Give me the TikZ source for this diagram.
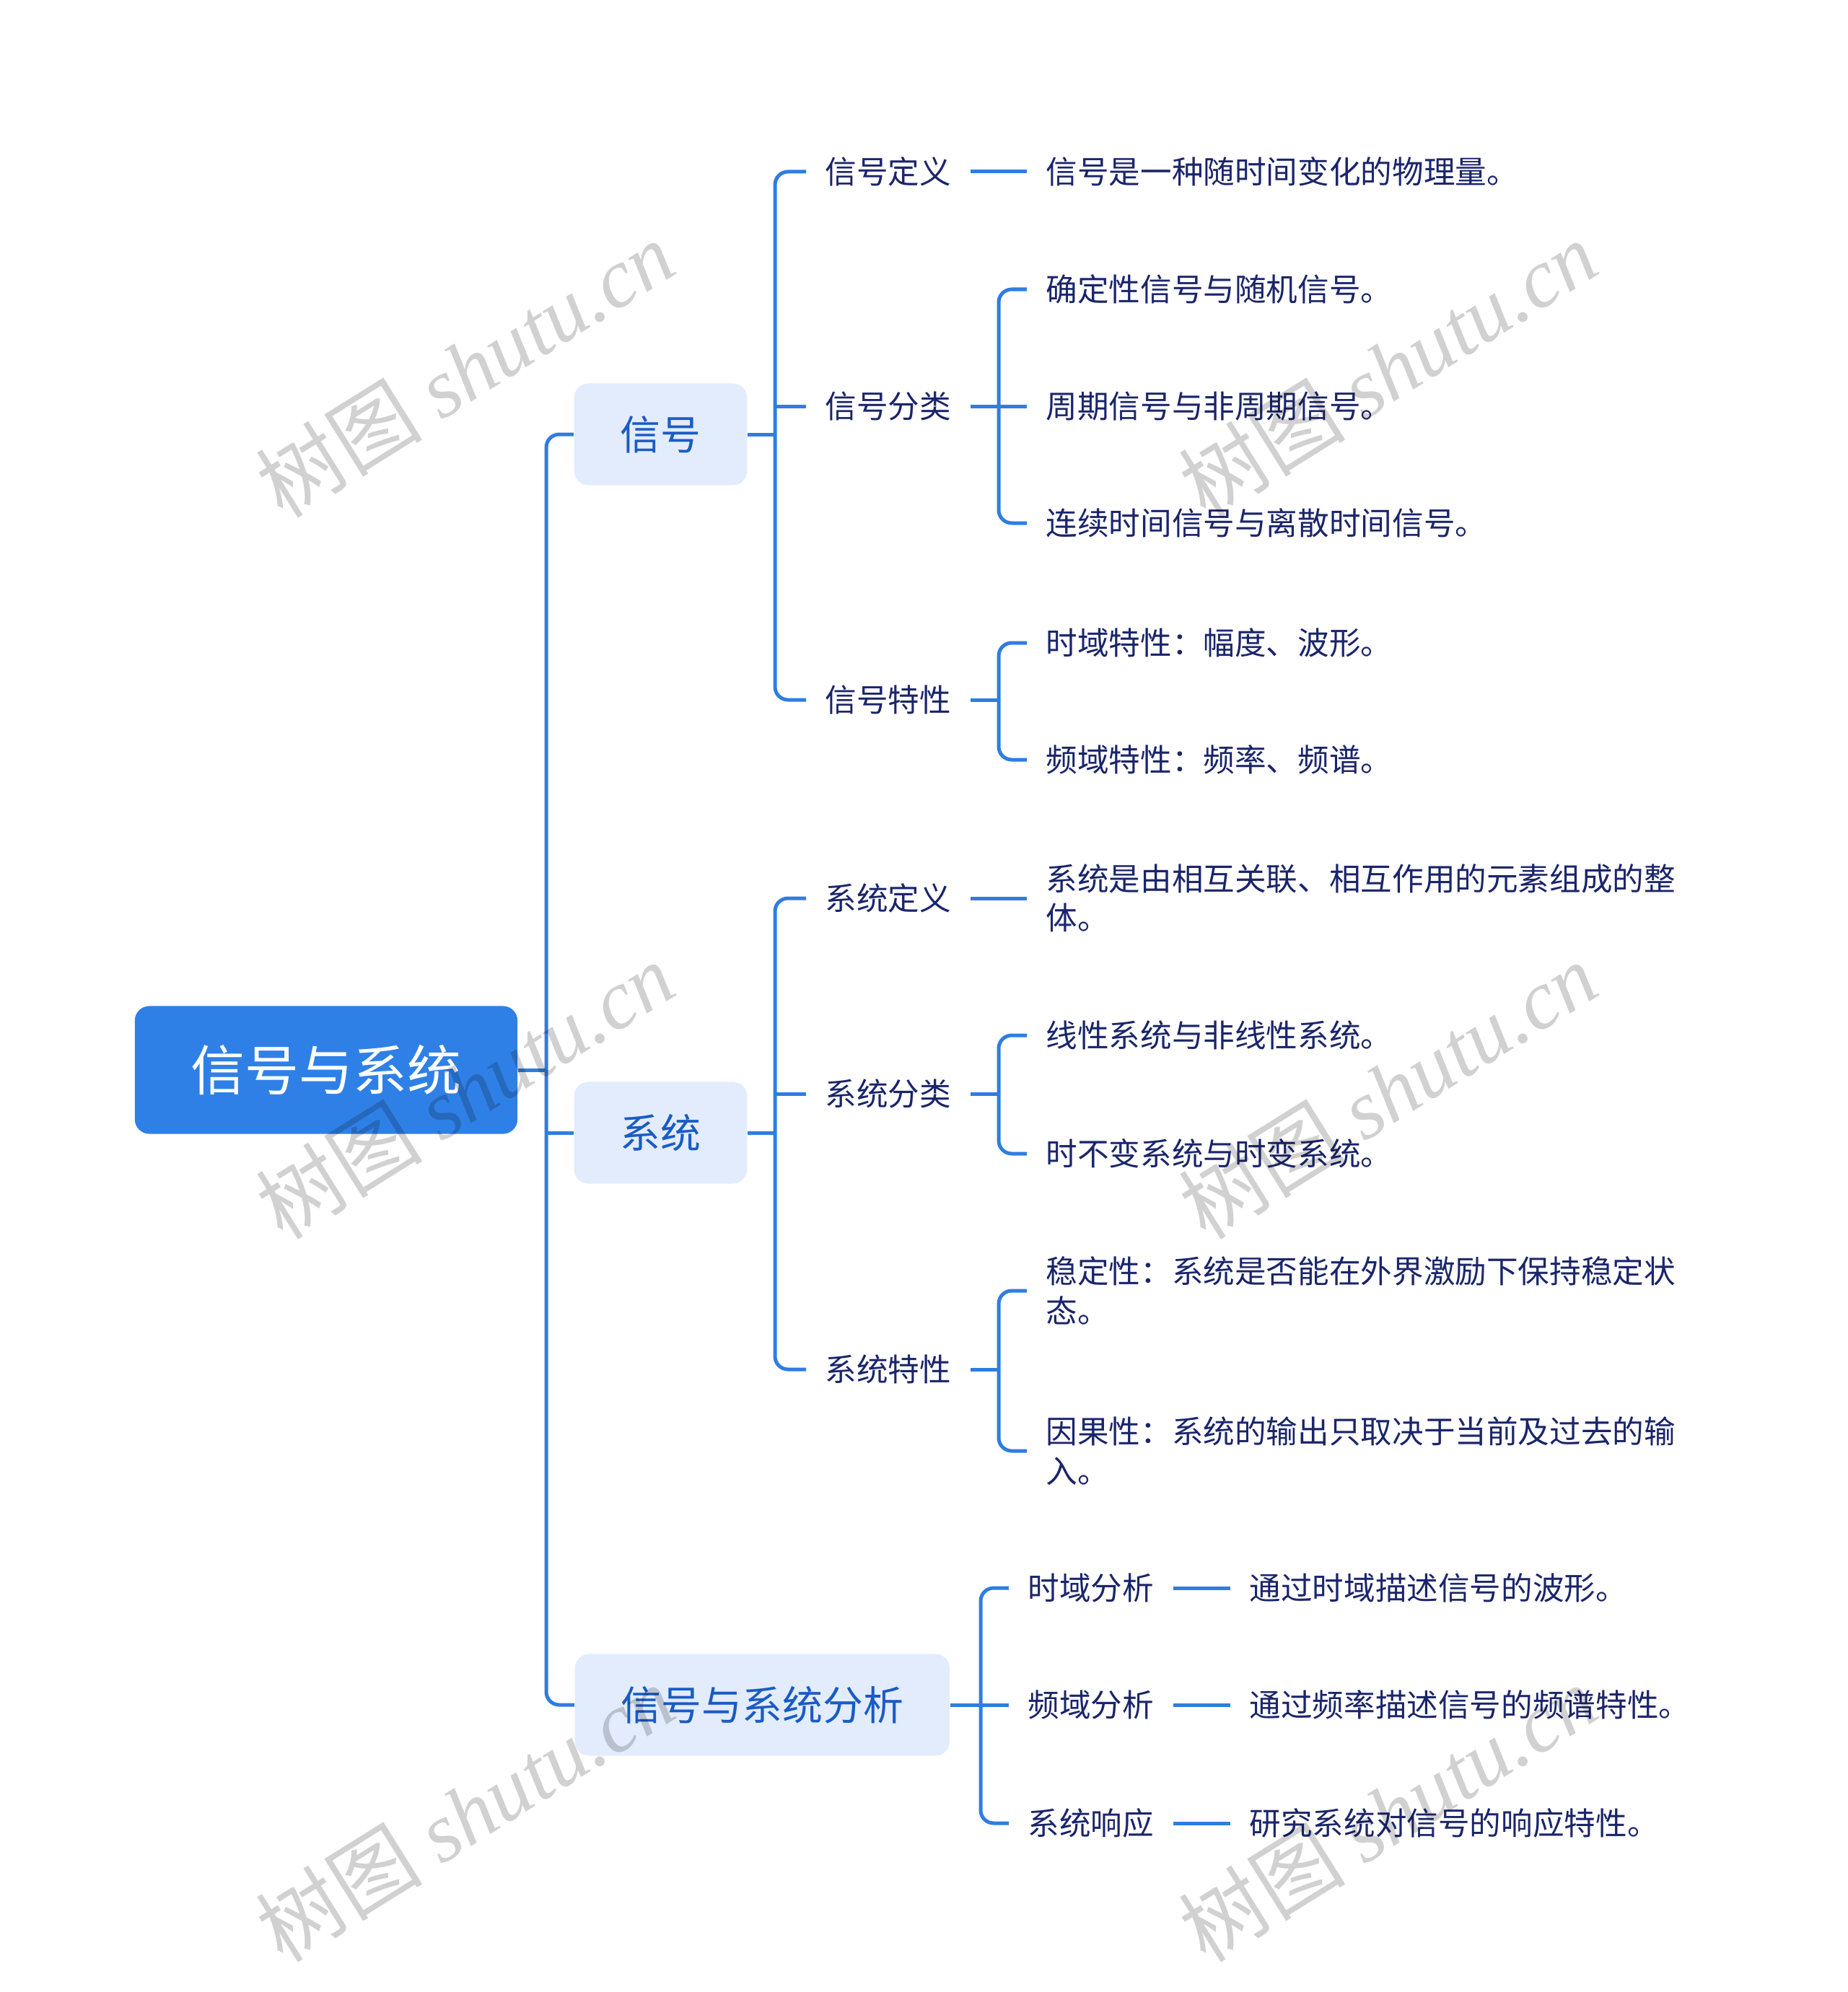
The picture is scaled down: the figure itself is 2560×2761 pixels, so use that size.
\documentclass[tikz,border=0pt]{standalone}
\usepackage{fontspec}
\setmainfont{Noto Sans CJK SC}
\newfontfamily\cjk{Noto Sans CJK SC}
\newfontfamily\wmlatin{Liberation Serif}
\definecolor{linecol}{HTML}{2F7DE1}
\definecolor{rootfill}{HTML}{2F80E6}
\definecolor{boxfill}{HTML}{E3ECFC}
\definecolor{boxtext}{HTML}{1A5BC4}
\definecolor{navy}{HTML}{1B256B}
\begin{document}
\begin{tikzpicture}[x=0.01cm,y=-0.01cm,
  conn/.style={draw=linecol, line width=0.05cm, rounded corners=0.18cm},
  rootbox/.style={fill=rootfill, rounded corners=0.2cm, minimum width=5.3cm, minimum height=1.77cm, text=white, font=\cjk\fontsize{21.3pt}{24pt}\selectfont, inner sep=0pt},
  topic/.style={fill=boxfill, rounded corners=0.2cm, minimum width=2.39cm, minimum height=1.41cm, inner xsep=0.64cm, text=boxtext, font=\cjk\fontsize{15.9pt}{18pt}\selectfont},
  lbl/.style={anchor=west, inner xsep=0.26cm, inner ysep=0.05cm, text=navy, align=left, font=\cjk\fontsize{12.4pt}{15.5pt}\selectfont},
  wm/.style={rotate=32, text=black, text opacity=0.18, font=\fontsize{33pt}{35pt}\selectfont}
]
\useasboundingbox (0,0) rectangle (2560,2761);

% root and topics
\node[rootbox] (root) at (452,1483) {信号与系统};
\node[topic] (sig) at (915.5,602) {信号};
\node[topic] (sys) at (915.5,1570) {系统};
\node[topic, anchor=west] (ana) at (796,2363) {信号与系统分析};

% level 2
\node[lbl] (sdef) at (1117,238) {信号定义};
\node[lbl] (scls) at (1117,563) {信号分类};
\node[lbl] (sprop) at (1117,970) {信号特性};
\node[lbl] (ydef) at (1117,1245) {系统定义};
\node[lbl] (ycls) at (1117,1516) {系统分类};
\node[lbl] (yprop) at (1117,1898) {系统特性};
\node[lbl] (atime) at (1398,2201) {时域分析};
\node[lbl] (afreq) at (1398,2363) {频域分析};
\node[lbl] (aresp) at (1398,2527) {系统响应};

% leaves
\node[lbl] (sdefa) at (1423,238) {信号是一种随时间变化的物理量。};
\node[lbl] (sclsa) at (1423,401) {确定性信号与随机信号。};
\node[lbl] (sclsb) at (1423,563) {周期信号与非周期信号。};
\node[lbl] (sclsc) at (1423,725) {连续时间信号与离散时间信号。};
\node[lbl] (sprpa) at (1423,891) {时域特性：幅度、波形。};
\node[lbl] (sprpb) at (1423,1053) {频域特性：频率、频谱。};
\node[lbl] (ydefa) at (1423,1245) {系统是由相互关联、相互作用的元素组成的整\\体。};
\node[lbl] (yclsa) at (1423,1435) {线性系统与非线性系统。};
\node[lbl] (yclsb) at (1423,1599) {时不变系统与时变系统。};
\node[lbl] (yprpa) at (1423,1789) {稳定性：系统是否能在外界激励下保持稳定状\\态。};
\node[lbl] (yprpb) at (1423,2011) {因果性：系统的输出只取决于当前及过去的输\\入。};
\node[lbl] (atimea) at (1705,2201) {通过时域描述信号的波形。};
\node[lbl] (afreqa) at (1705,2363) {通过频率描述信号的频谱特性。};
\node[lbl] (arespa) at (1705,2527) {研究系统对信号的响应特性。};

% bus coordinates
\coordinate (t0) at (757,1483);
\coordinate (b1) at (1074,602);
\coordinate (b2) at (1074,1570);
\coordinate (b3) at (1359,2363);
\coordinate (b11) at (1384,563);
\coordinate (b12) at (1384,970);
\coordinate (b21) at (1384,1516);
\coordinate (b22) at (1384,1898);

% root -> topics
\draw[conn] (root.east) -- (t0);
\draw[conn] (sig.west) -| (t0) |- (ana.west);
\draw[conn] (t0 |- sys) -- (sys.west);

% signal
\draw[conn] (sig.east) -- (b1);
\draw[conn] (sdef.west) -| (b1) |- (sprop.west);
\draw[conn] (b1 |- scls) -- (scls.west);
\draw[conn] (sdef.east) -- (sdefa.west);
\draw[conn] (scls.east) -- (b11);
\draw[conn] (sclsa.west) -| (b11) |- (sclsc.west);
\draw[conn] (b11 |- sclsb) -- (sclsb.west);
\draw[conn] (sprop.east) -- (b12);
\draw[conn] (sprpa.west) -| (b12) |- (sprpb.west);

% system
\draw[conn] (sys.east) -- (b2);
\draw[conn] (ydef.west) -| (b2) |- (yprop.west);
\draw[conn] (b2 |- ycls) -- (ycls.west);
\draw[conn] (ydef.east) -- (ydefa.west);
\draw[conn] (ycls.east) -- (b21);
\draw[conn] (yclsa.west) -| (b21) |- (yclsb.west);
\draw[conn] (yprop.east) -- (b22);
\draw[conn] (yprpa.west) -| (b22) |- (yprpb.west);

% analysis
\draw[conn] (ana.east) -- (b3);
\draw[conn] (atime.west) -| (b3) |- (aresp.west);
\draw[conn] (b3 |- afreq) -- (afreq.west);
\draw[conn] (atime.east) -- (atimea.west);
\draw[conn] (afreq.east) -- (afreqa.west);
\draw[conn] (aresp.east) -- (arespa.west);

% watermarks
\foreach \wx/\wy [count=\i] in {644/511, 1923/511, 644/1511, 1923/1511, 644/2513, 1923/2513}
  \node[wm] (wm\i) at (\wx,\wy) {树图 {\wmlatin\itshape shutu.cn}};
\end{tikzpicture}
\end{document}
